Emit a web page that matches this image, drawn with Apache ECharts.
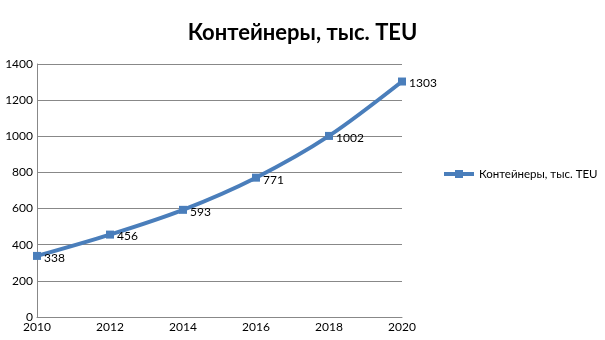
<!DOCTYPE html>
<html><head><meta charset="utf-8">
<script src="https://cdn.jsdelivr.net/npm/echarts@6/dist/echarts.min.js"></script>
<style>html,body{margin:0;padding:0;background:#fff}#c{width:605px;height:340px}</style>
</head><body><div id="c"></div>
<script>
const categories = ['2010','2012','2014','2016','2018','2020'];
const values = [338, 456, 593, 771, 1002, 1303];
const seriesName = 'Контейнеры, тыс. TEU';
const chart = echarts.init(document.getElementById('c'), null, {renderer:'canvas'});
chart.setOption({
  animation:false,
  title:{text:seriesName,left:'center',top:17,textStyle:{fontFamily:'Lato',fontWeight:'bold',fontSize:22,color:'#000'}},
  legend:{left:437,top:163,itemWidth:30,itemHeight:10,itemGap:4,textStyle:{fontFamily:'Lato',fontSize:11.5,color:'#000'},
    lineStyle:{width:4},
    data:[{name:seriesName}]},
  grid:{left:37,right:203,top:64,bottom:23,containLabel:false},
  xAxis:{type:'category',data:categories,boundaryGap:false,
    axisLine:{lineStyle:{color:'#888'}},axisTick:{show:false},
    axisLabel:{fontFamily:'Lato',fontSize:12,color:'#000',margin:4},splitLine:{show:false}},
  yAxis:{type:'value',min:0,max:1400,interval:200,
    axisLine:{show:true,lineStyle:{color:'#888'}},axisTick:{show:false},
    axisLabel:{fontFamily:'Lato',fontSize:12,color:'#000',margin:4,formatter:v=>String(v)},
    splitLine:{lineStyle:{color:'#888'}}},
  series:[{name:seriesName,type:'line',data:values,smooth:0.3,
    symbol:'rect',symbolSize:8,
    lineStyle:{color:'#4a7ebb',width:4},itemStyle:{color:'#4a7ebb'},
    label:{show:true,position:'right',distance:3,offset:[0,2],fontFamily:'Lato',fontSize:12,color:'#000'}}]
});
</script></body></html>
